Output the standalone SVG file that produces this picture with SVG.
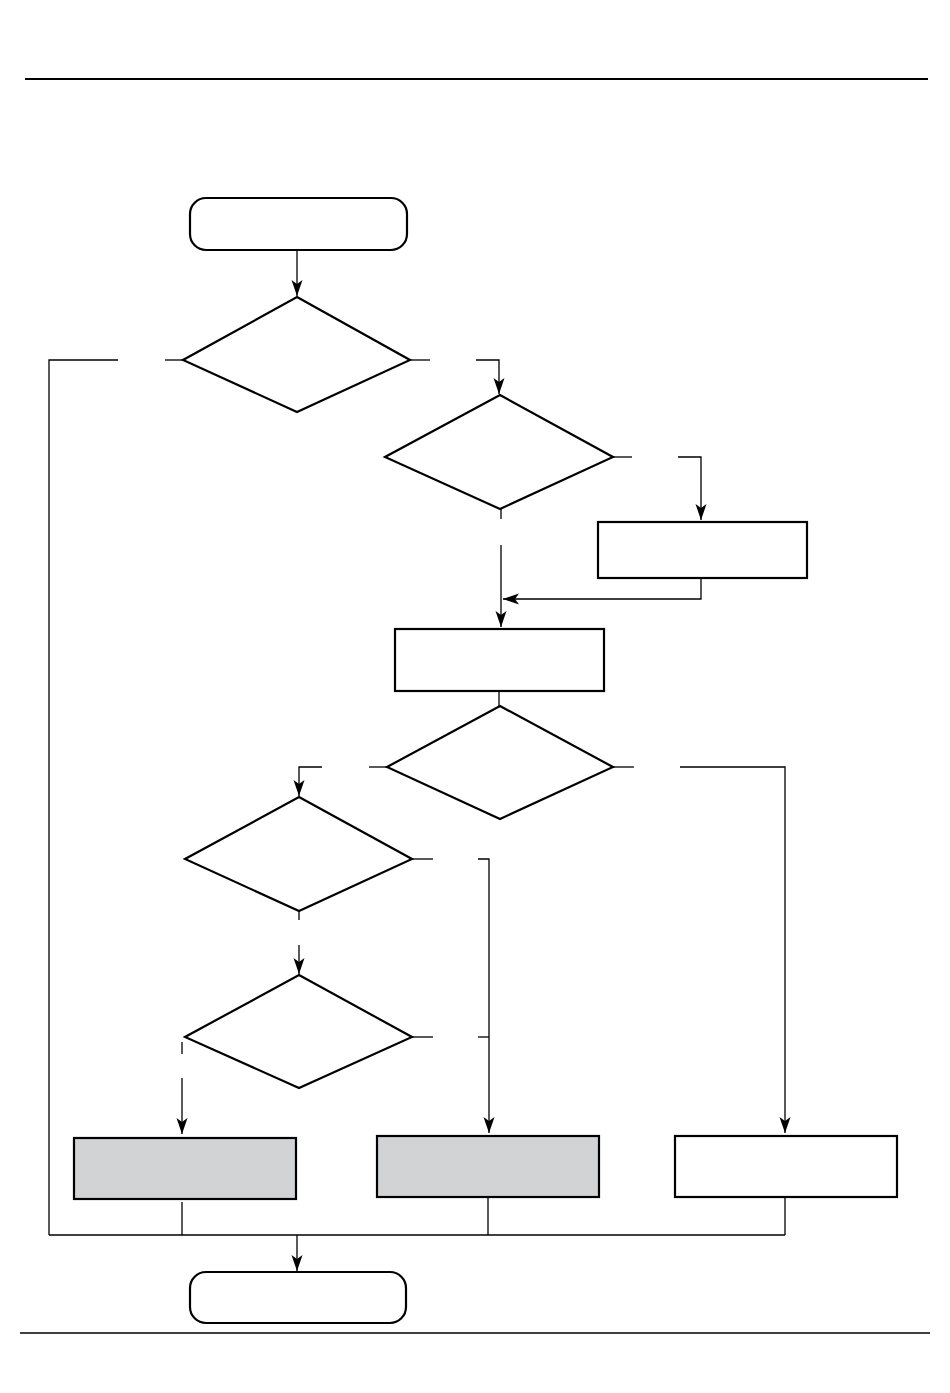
<svg xmlns="http://www.w3.org/2000/svg" width="950" height="1393" viewBox="0 0 950 1393">
  <defs>
    <marker id="arr" markerUnits="userSpaceOnUse" markerWidth="18" markerHeight="14" viewBox="-17 -7 18 14" refX="0" refY="0" orient="auto">
      <path d="M0,0 L-16,-5.5 L-12,0 L-16,5.5 Z" fill="#000"/>
    </marker>
  </defs>
  <style>
    .shape { fill: #fff; stroke: #000; stroke-width: 2.2; }
    .gray { fill: #d2d3d5; }
    .conn { fill: none; stroke: #000; stroke-width: 1.3; }
    .rule { stroke: #000; }
  </style>
  <rect width="950" height="1393" fill="#fff"/>
  <line class="rule" x1="25" y1="79" x2="928" y2="79" stroke-width="2.2"/>
  <line class="rule" x1="20" y1="1333" x2="930" y2="1333" stroke-width="1.5"/>

  <g id="start"><rect class="shape" x="190" y="198" width="217" height="52" rx="16"/></g>
  <g id="decision1"><polygon class="shape" points="297,297 410,360 297,412 183,360"/></g>
  <g id="decision2"><polygon class="shape" points="500,395 613,457 500,509 385,457"/></g>
  <g id="boxA"><rect class="shape" x="598" y="522" width="209" height="56"/></g>
  <g id="boxB"><rect class="shape" x="395" y="629" width="209" height="62"/></g>
  <g id="decision3"><polygon class="shape" points="500,706 613,767 500,819 387,767"/></g>
  <g id="decision4"><polygon class="shape" points="299,797 412,859 299,911 185,859"/></g>
  <g id="decision5"><polygon class="shape" points="299,975 412,1037 299,1088 185,1037"/></g>
  <g id="boxC"><rect class="shape gray" x="74" y="1138" width="222" height="61"/></g>
  <g id="boxD"><rect class="shape gray" x="377" y="1136" width="222" height="61"/></g>
  <g id="boxE"><rect class="shape" x="675" y="1136" width="222" height="61"/></g>
  <g id="end"><rect class="shape" x="190" y="1272" width="216" height="51" rx="16"/></g>

  <g id="connectors">
    <line class="conn" x1="297" y1="250" x2="297" y2="296" marker-end="url(#arr)"/>
    <line class="conn" x1="183" y1="360" x2="165" y2="360"/>
    <polyline class="conn" points="118,360 49,360 49,1235"/>
    <line class="conn" x1="410" y1="360" x2="430" y2="360"/>
    <polyline class="conn" points="476,360 499,360 499,394" marker-end="url(#arr)"/>
    <line class="conn" x1="613" y1="457" x2="632" y2="457"/>
    <polyline class="conn" points="678,457 701,457 701,520" marker-end="url(#arr)"/>
    <polyline class="conn" points="701,578 701,599 503,599" marker-end="url(#arr)"/>
    <line class="conn" x1="501" y1="509" x2="501" y2="519"/>
    <line class="conn" x1="501" y1="545" x2="501" y2="627" marker-end="url(#arr)"/>
    <line class="conn" x1="499" y1="691" x2="499" y2="706"/>
    <line class="conn" x1="387" y1="767" x2="369" y2="767"/>
    <polyline class="conn" points="322,767 299,767 299,796" marker-end="url(#arr)"/>
    <line class="conn" x1="613" y1="767" x2="634" y2="767"/>
    <polyline class="conn" points="680,767 785,767 785,1133" marker-end="url(#arr)"/>
    <line class="conn" x1="412" y1="859" x2="433" y2="859"/>
    <polyline class="conn" points="478,859 489,859 489,1133" marker-end="url(#arr)"/>
    <line class="conn" x1="299" y1="911" x2="299" y2="920"/>
    <line class="conn" x1="299" y1="945" x2="299" y2="974" marker-end="url(#arr)"/>
    <line class="conn" x1="412" y1="1037" x2="433" y2="1037"/>
    <line class="conn" x1="478" y1="1037" x2="489" y2="1037"/>
    <line class="conn" x1="182" y1="1042" x2="182" y2="1054"/>
    <line class="conn" x1="182" y1="1078" x2="182" y2="1134" marker-end="url(#arr)"/>
    <line class="conn" x1="182" y1="1202" x2="182" y2="1235"/>
    <line class="conn" x1="488" y1="1197" x2="488" y2="1235"/>
    <line class="conn" x1="785" y1="1197" x2="785" y2="1235"/>
    <line class="conn" x1="49" y1="1235" x2="785" y2="1235"/>
    <line class="conn" x1="297" y1="1235" x2="297" y2="1271" marker-end="url(#arr)"/>
  </g>
</svg>
